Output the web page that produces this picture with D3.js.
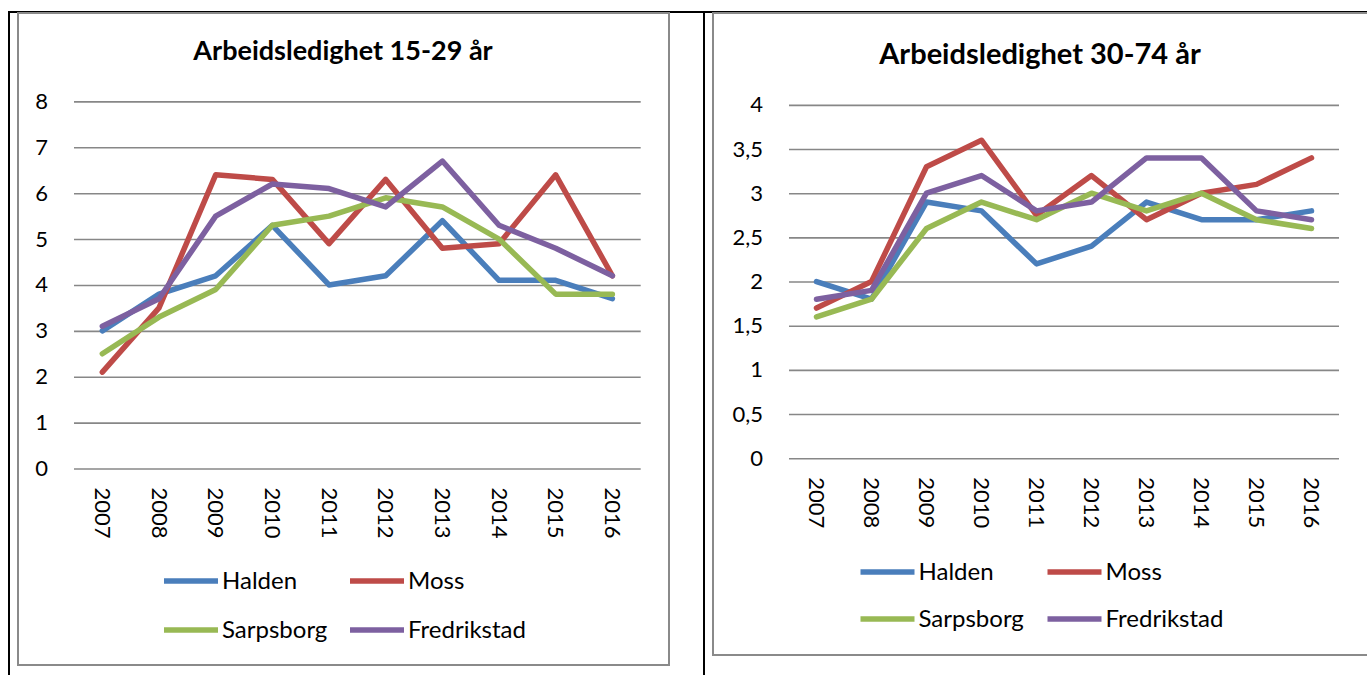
<!DOCTYPE html>
<html lang="no">
<head>
  <meta charset="UTF-8" />
  <title>Arbeidsledighet</title>
  <script src="https://d3js.org/d3.v7.min.js"></script>
  <style>
    body { margin:0; padding:0; background:#fff; font-family:Lato, "Open Sans", sans-serif; }
    svg { display:block; }
    .grid line { stroke:#878787; stroke-width:1.6px; }
    .tick text { fill:#000; }
  </style>
</head>
<body>
  <svg width="1367" height="675"></svg>

  <script>
  // --- data ---
  const years  = ["2007","2008","2009","2010","2011","2012","2013","2014","2015","2016"];
  const cities = ["Halden","Moss","Sarpsborg","Fredrikstad"];

  // 15-29 år
  const youngHalden      = [3.0, 3.8, 4.2, 5.3, 4.0, 4.2, 5.4, 4.1, 4.1, 3.7];
  const youngMoss        = [2.1, 3.5, 6.4, 6.3, 4.9, 6.3, 4.8, 4.9, 6.4, 4.2];
  const youngSarpsborg   = [2.5, 3.3, 3.9, 5.3, 5.5, 5.9, 5.7, 5.0, 3.8, 3.8];
  const youngFredrikstad = [3.1, 3.7, 5.5, 6.2, 6.1, 5.7, 6.7, 5.3, 4.8, 4.2];
  const youngTicks = [0, 1, 2, 3, 4, 5, 6, 7, 8];

  // 30-74 år
  const oldHalden      = [2.0, 1.8, 2.9, 2.8, 2.2, 2.4, 2.9, 2.7, 2.7, 2.8];
  const oldMoss        = [1.7, 2.0, 3.3, 3.6, 2.75, 3.2, 2.7, 3.0, 3.1, 3.4];
  const oldSarpsborg   = [1.6, 1.8, 2.6, 2.9, 2.7, 3.0, 2.8, 3.0, 2.7, 2.6];
  const oldFredrikstad = [1.8, 1.9, 3.0, 3.2, 2.8, 2.9, 3.4, 3.4, 2.8, 2.7];
  const oldTicks = [0, 0.5, 1, 1.5, 2, 2.5, 3, 3.5, 4];

  const colors = ["#4A7EBB", "#BE4B48", "#98B954", "#7D60A0"];
  const fmt = v => String(v).replace(".", ",");

  const svg = d3.select("svg");

  // table lines from the document
  svg.append("line").attr("x1",8).attr("x2",1367).attr("y1",12).attr("y2",12)
    .attr("stroke","#000").attr("stroke-width",2);
  svg.append("line").attr("x1",9).attr("x2",9).attr("y1",11).attr("y2",675)
    .attr("stroke","#000").attr("stroke-width",2);
  svg.append("line").attr("x1",704).attr("x2",704).attr("y1",11).attr("y2",675)
    .attr("stroke","#000").attr("stroke-width",2);

  function drawChart(o){
    const g = svg.append("g");

    // chart frame
    g.append("rect")
      .attr("x", o.frame[0]).attr("y", o.frame[1])
      .attr("width", o.frame[2] - o.frame[0]).attr("height", o.frame[3] - o.frame[1])
      .attr("fill","#fff").attr("stroke","#8a8a8a").attr("stroke-width",2);

    g.append("text")
      .attr("x", o.titleX).attr("y", o.titleY)
      .attr("text-anchor","middle")
      .attr("font-weight","bold")
      .attr("font-size", o.titleSize)
      .text(o.title);

    const x = d3.scalePoint().domain(years).range([o.x0, o.x1]).padding(0.5);
    const y = d3.scaleLinear().domain([0, o.max]).range([o.yBottom, o.yTop]);

    // y axis + gridlines
    const ya = g.append("g").attr("class","grid")
      .attr("transform", `translate(${o.x0},0)`)
      .call(d3.axisLeft(y).tickValues(o.ticks).tickFormat(fmt)
        .tickSize(-(o.x1 - o.x0)).tickPadding(26));
    ya.select(".domain").remove();
    ya.selectAll("text").attr("font-size", 22).attr("font-family","Lato");

    // x axis, labels turned to read downwards
    const xa = g.append("g")
      .attr("transform", `translate(0,${o.yBottom})`)
      .call(d3.axisBottom(x).tickSize(0));
    xa.select(".domain").remove();
    xa.selectAll("text")
      .attr("x",0).attr("y",0).attr("dy","0.36em")
      .attr("transform","translate(0,19) rotate(90)")
      .attr("text-anchor","start")
      .attr("font-size", 22).attr("font-family","Lato");

    const line = d3.line().x((d,i) => x(years[i])).y(d => y(d));
    g.selectAll(".series").data(o.series).enter().append("path")
      .attr("class","series")
      .attr("d", d => line(d))
      .attr("fill","none")
      .attr("stroke", (d,i) => colors[i])
      .attr("stroke-width", 5.5)
      .attr("stroke-linejoin","round")
      .attr("stroke-linecap","round");

    // legend, two columns
    const lg = g.selectAll(".leg").data(cities).enter().append("g")
      .attr("class","leg")
      .attr("transform", (d,i) => `translate(${o.legX[i % 2]},${o.legY[Math.floor(i / 2)]})`);
    lg.append("line").attr("x1",0).attr("x2",54).attr("y1",0).attr("y2",0)
      .attr("stroke", (d,i) => colors[i]).attr("stroke-width",5.5);
    lg.append("text").attr("x",58).attr("y",0).attr("dy","0.35em")
      .attr("font-size",24).text(d => d);
  }

  drawChart({
    title: "Arbeidsledighet 15-29 år", titleX: 343, titleY: 60, titleSize: 27,
    frame: [18, 13, 669, 665],
    x0: 74, x1: 640.7, yBottom: 468.5, yTop: 101.4, max: 8, ticks: youngTicks,
    series: [youngHalden, youngMoss, youngSarpsborg, youngFredrikstad],
    legX: [164, 350], legY: [581, 630]
  });

  drawChart({
    title: "Arbeidsledighet 30-74 år", titleX: 1040, titleY: 64, titleSize: 29,
    frame: [713, 13, 1372, 655],
    x0: 789, x1: 1339, yBottom: 458.2, yTop: 104.9, max: 4, ticks: oldTicks,
    series: [oldHalden, oldMoss, oldSarpsborg, oldFredrikstad],
    legX: [860.5, 1047.5], legY: [572, 619]
  });
  </script>
</body>
</html>
